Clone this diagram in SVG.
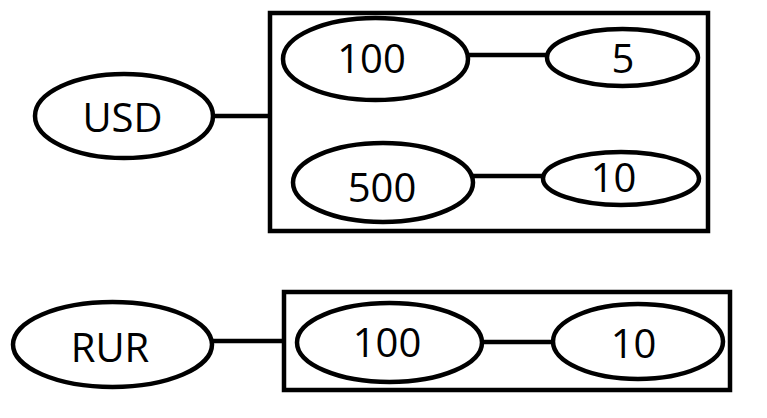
<svg xmlns="http://www.w3.org/2000/svg" width="767" height="418" viewBox="0 0 767 418">
<style>
.n ellipse{fill:#fff;stroke:#000;stroke-width:4.5}
.box{fill:none;stroke:#000;stroke-width:4.5}
.n text{font-family:"Open Sans","Noto Sans",sans-serif;font-size:40px;fill:#000;text-anchor:middle}
#connectors line{stroke:#000;stroke-width:4.5}
</style>
<rect width="767" height="418" fill="#fff"/>
<g id="group-usd"><rect class="box" x="270" y="13" width="438" height="218"/></g>
<g id="group-rur"><rect class="box" x="284" y="292" width="446" height="98"/></g>
<g id="connectors">
<line x1="213" y1="116" x2="272" y2="116"/>
<line x1="468" y1="55" x2="547" y2="55"/>
<line x1="473" y1="176" x2="543" y2="176"/>
<line x1="212" y1="341" x2="286" y2="341"/>
<line x1="482" y1="342" x2="553" y2="342"/>
</g>
<g id="usd" class="n"><ellipse cx="124" cy="116" rx="89" ry="42"/><text x="122.5" y="132">USD</text></g>
<g id="usd-100" class="n"><ellipse cx="375.5" cy="59" rx="92.5" ry="41"/><text x="371.5" y="73">100</text></g>
<g id="usd-100-5" class="n"><ellipse cx="622.5" cy="57.5" rx="75.5" ry="28.5"/><text x="623" y="73">5</text></g>
<g id="usd-500" class="n"><ellipse cx="383" cy="182.5" rx="90" ry="39.5"/><text x="382" y="202">500</text></g>
<g id="usd-500-10" class="n"><ellipse cx="621" cy="178.5" rx="78" ry="26.5"/><text x="613.5" y="192">10</text></g>
<g id="rur" class="n"><ellipse cx="112.5" cy="344.5" rx="99.5" ry="42.5"/><text x="110" y="362">RUR</text></g>
<g id="rur-100" class="n"><ellipse cx="389.5" cy="342.5" rx="92.5" ry="39.5"/><text x="387" y="357">100</text></g>
<g id="rur-100-10" class="n"><ellipse cx="638" cy="341.5" rx="85" ry="37.5"/><text x="633.5" y="358">10</text></g>
</svg>
